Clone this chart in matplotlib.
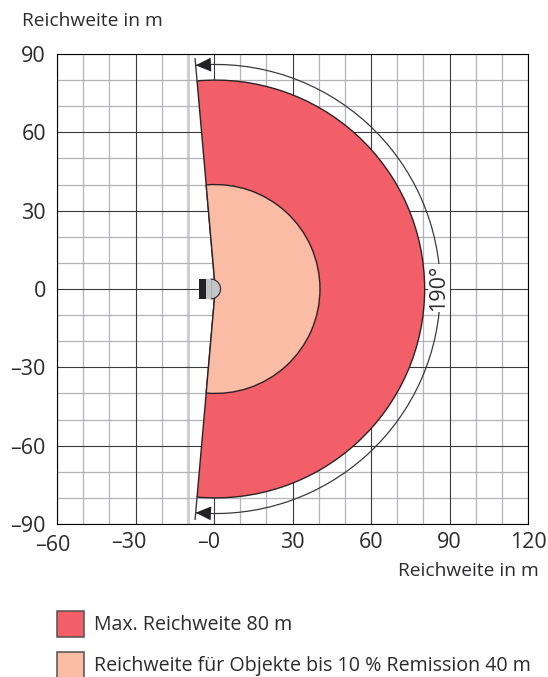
#!/usr/bin/env python3
"""Range diagram: 190 deg scan sector, max range and 10 % remission range."""
import matplotlib
matplotlib.use("Agg")
import matplotlib.pyplot as plt
from matplotlib.patches import Arc, Rectangle, Wedge
from matplotlib.transforms import ScaledTranslation
import numpy as np

plt.rcParams["font.family"] = ["Open Sans", "DejaVu Sans"]

W, H = 548, 677
DARK, GRID, GRID_WIDE, TXT = "#3a3a3c", "#b4b4b8", "#cfcfd1", "#2b2b2d"
RED, PEACH = "#f25f68", "#fabca5"

x_ticks = [-60, -30, 0, 30, 60, 90, 120]
x_labels = ["–60", "–30", "–0", "30", "60", "90", "120"]
y_ticks = [-90, -60, -30, 0, 30, 60, 90]
y_labels = ["–90", "–60", "–30", "0", "30", "60", "90"]
max_range = 80
low_range = 40
half_angle = 95
arc_radius = 86
line_radius = 88.5
scan_label = "190°"
legend_labels = ["Max. Reichweite 80 m", "Reichweite für Objekte bis 10 % Remission 40 m"]
axis_label = "Reichweite in m"

fig = plt.figure(figsize=(W / 100, H / 100), dpi=100)
ax = fig.add_axes([57 / W, 1 - 524 / H, (528 - 57) / W, (524 - 54) / H])
ax.set_xlim(-60, 120); ax.set_ylim(-90, 90)

# grid: light every 10, dark every 30
for v in np.arange(-60, 121, 10):
    if v % 30:
        lw = 2.2 if v == -10 else 0.9
        ax.axvline(v, color=GRID_WIDE if v == -10 else GRID, lw=lw, zorder=1)
for v in np.arange(-90, 91, 10):
    if v % 30:
        ax.axhline(v, color=GRID, lw=0.9, zorder=1)
for v in x_ticks:
    ax.axvline(v, color=DARK, lw=0.8, zorder=1.5)
for v in y_ticks:
    ax.axhline(v, color=DARK, lw=0.8, zorder=1.5)

# the drawn sector sits a hair right of the x = 0 line in the original
cx = 0.5
for r, col in [(max_range, RED), (low_range, PEACH)]:
    ax.add_patch(Wedge((cx, 0), r, -half_angle, half_angle, facecolor=col,
                       edgecolor="#2a2224", lw=1.0, zorder=2))

# 190 deg dimension arc with its limit lines
ax.add_patch(Arc((cx, 0), 2 * arc_radius, 2 * arc_radius, theta1=-half_angle, theta2=half_angle,
                 color=DARK, lw=0.9, zorder=3))
a = np.deg2rad(half_angle)
for s in (1, -1):
    ax.plot([cx + 80 * np.cos(a), cx + line_radius * np.cos(a)],
            [s * 80 * np.sin(a), s * line_radius * np.sin(a)], color=DARK, lw=1.0, zorder=3)
    ax.annotate("", xy=(cx + arc_radius * np.cos(a), s * arc_radius * np.sin(a)), xytext=(cx, s * arc_radius),
                arrowprops=dict(arrowstyle="-|>,head_length=1.1,head_width=0.5", color="#222224",
                                lw=0, shrinkA=0, shrinkB=0), zorder=4)
ax.text(86, 0.4, scan_label, rotation=90, ha="center", va="center", fontsize=15.5, color=TXT, zorder=4,
        bbox=dict(facecolor="white", edgecolor="none", pad=0.5))

# scanner symbol
ax.add_patch(Wedge((-1.3, 0), 3.8, -90, 90, facecolor="#c3c6c9", edgecolor="#2a2224", lw=0.8, zorder=5))
ax.add_patch(Rectangle((-3, -3.8), 1.7, 7.6, facecolor="#c3c6c9", edgecolor="none", zorder=5))
ax.add_patch(Rectangle((-5.7, -3.8), 2.7, 7.6, facecolor="#222224", edgecolor="none", zorder=6))

ax.set_xticks(x_ticks); ax.set_xticklabels(x_labels)
ax.set_yticks(y_ticks); ax.set_yticklabels(y_labels)
ax.tick_params(length=0, labelsize=15.5, labelcolor=TXT)
ax.tick_params(axis="x", pad=6)
ax.tick_params(axis="y", pad=8)
# the original centres the digits under the grid line, not the minus sign
for lab, dx, dy in zip(ax.get_xticklabels()[:3], [-4.5, -6.5, -5.5], [-3, 0, 0]):
    lab.set_transform(lab.get_transform() + ScaledTranslation(dx / 100, dy / 100, fig.dpi_scale_trans))

fig.text(22 / W, 1 - 21 / H, axis_label, fontsize=13.8, color=TXT, ha="left", va="center")
fig.text(539 / W, 1 - 571 / H, axis_label, fontsize=13.8, color=TXT, ha="right", va="center")

# legend
for top, col, lab in zip([611, 652], [RED, PEACH], legend_labels):
    fig.patches.append(Rectangle((57 / W, 1 - (top + 26) / H), 27 / W, 26 / H, transform=fig.transFigure,
                                 facecolor=col, edgecolor="#55504f", lw=1.1))
    fig.text(94 / W, 1 - (top + 14) / H, lab, fontsize=14.1, color=TXT, ha="left", va="center")

fig.savefig("out.png", dpi=100)
